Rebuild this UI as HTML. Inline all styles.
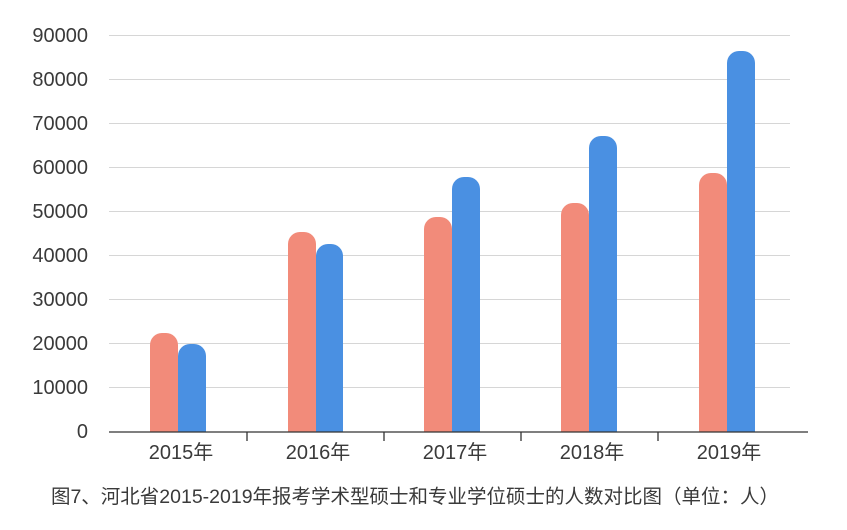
<!DOCTYPE html>
<html><head><meta charset="utf-8"><style>
html,body{margin:0;padding:0;background:#fff;}
svg{display:block;}
text{font-family:"Liberation Sans","Noto Sans CJK SC",sans-serif;fill:#3a3a3a;}
</style></head><body>
<svg width="847" height="530" viewBox="0 0 847 530" xmlns="http://www.w3.org/2000/svg">
<g stroke="#d6d6d6" stroke-width="1">
<line x1="109" x2="790" y1="35.5" y2="35.5"/>
<line x1="109" x2="790" y1="79.5" y2="79.5"/>
<line x1="109" x2="790" y1="123.5" y2="123.5"/>
<line x1="109" x2="790" y1="167.5" y2="167.5"/>
<line x1="109" x2="790" y1="211.5" y2="211.5"/>
<line x1="109" x2="790" y1="255.5" y2="255.5"/>
<line x1="109" x2="790" y1="299.5" y2="299.5"/>
<line x1="109" x2="790" y1="343.5" y2="343.5"/>
<line x1="109" x2="790" y1="387.5" y2="387.5"/>
</g>
<g font-size="20" text-anchor="end">
<text x="88" y="42">90000</text>
<text x="88" y="86">80000</text>
<text x="88" y="130">70000</text>
<text x="88" y="174">60000</text>
<text x="88" y="218">50000</text>
<text x="88" y="262">40000</text>
<text x="88" y="306">30000</text>
<text x="88" y="350">20000</text>
<text x="88" y="394">10000</text>
<text x="88" y="438">0</text>
</g>
<g>
<path fill="#f28b7a" d="M150 432V345a12 12 0 0 1 12-12h4a12 12 0 0 1 12 12V432Z"/>
<path fill="#4a90e2" d="M178 432V356a12 12 0 0 1 12-12h4a12 12 0 0 1 12 12V432Z"/>
<path fill="#f28b7a" d="M288 432V244a12 12 0 0 1 12-12h4a12 12 0 0 1 12 12V432Z"/>
<path fill="#4a90e2" d="M316 432V256a12 12 0 0 1 12-12h3a12 12 0 0 1 12 12V432Z"/>
<path fill="#f28b7a" d="M424 432V229a12 12 0 0 1 12-12h4a12 12 0 0 1 12 12V432Z"/>
<path fill="#4a90e2" d="M452 432V189a12 12 0 0 1 12-12h4a12 12 0 0 1 12 12V432Z"/>
<path fill="#f28b7a" d="M561 432V215a12 12 0 0 1 12-12h4a12 12 0 0 1 12 12V432Z"/>
<path fill="#4a90e2" d="M589 432V148a12 12 0 0 1 12-12h4a12 12 0 0 1 12 12V432Z"/>
<path fill="#f28b7a" d="M699 432V185a12 12 0 0 1 12-12h4a12 12 0 0 1 12 12V432Z"/>
<path fill="#4a90e2" d="M727 432V63a12 12 0 0 1 12-12h4a12 12 0 0 1 12 12V432Z"/>
</g>
<g stroke="#333" stroke-width="1.3">
<line x1="109" x2="808" y1="432" y2="432"/>
<line x1="247" x2="247" y1="432" y2="441"/>
<line x1="384" x2="384" y1="432" y2="441"/>
<line x1="521" x2="521" y1="432" y2="441"/>
<line x1="658" x2="658" y1="432" y2="441"/>
</g>
<g font-size="20" text-anchor="middle">
<text x="181" y="459">2015年</text>
<text x="318" y="459">2016年</text>
<text x="455" y="459">2017年</text>
<text x="592" y="459">2018年</text>
<text x="729" y="459">2019年</text>
</g>
<text x="415" y="503" font-size="19.5" text-anchor="middle">图7、河北省2015-2019年报考学术型硕士和专业学位硕士的人数对比图（单位：人）</text>
</svg>
</body></html>
